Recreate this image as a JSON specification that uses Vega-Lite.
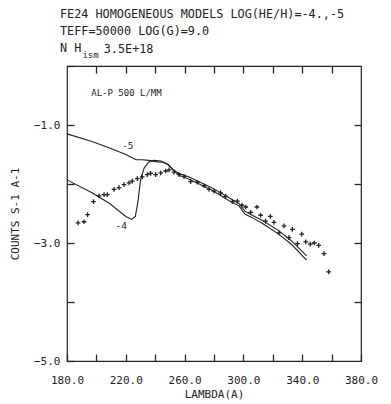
{
  "$schema": "https://vega.github.io/schema/vega-lite/v6.json",
  "width": 294,
  "height": 295,
  "autosize": "none",
  "padding": {"left": 67, "top": 66, "right": 30, "bottom": 43},
  "background": "white",
  "config": {
    "font": "DejaVu Sans Mono",
    "view": {"stroke": "#222", "strokeWidth": 1.2},
    "axis": {"labelFont": "DejaVu Sans Mono", "titleFont": "DejaVu Sans Mono", "labelFontSize": 11, "titleFontSize": 11, "titleFontWeight": "normal", "labelColor": "#222", "titleColor": "#222", "domain": false, "grid": false, "tickColor": "#222", "tickWidth": 1.3}
  },
  "title": {
    "text": ["FE24 HOMOGENEOUS MODELS LOG(HE/H)=-4.,-5", "TEFF=50000 LOG(G)=9.0", "N H"],
    "anchor": "start",
    "frame": "group",
    "dx": -7,
    "offset": -10,
    "font": "DejaVu Sans Mono",
    "fontSize": 11.8,
    "fontWeight": "normal",
    "lineHeight": 17,
    "color": "#222"
  },
  "datasets": {
    "models": [
      {"lambda": 180, "logc": -1.15, "model": "-5"},
      {"lambda": 197, "logc": -1.28, "model": "-5"},
      {"lambda": 209, "logc": -1.39, "model": "-5"},
      {"lambda": 220, "logc": -1.50, "model": "-5"},
      {"lambda": 227, "logc": -1.59, "model": "-5"},
      {"lambda": 231, "logc": -1.59, "model": "-5"},
      {"lambda": 236, "logc": -1.60, "model": "-5"},
      {"lambda": 240, "logc": -1.62, "model": "-5"},
      {"lambda": 245, "logc": -1.63, "model": "-5"},
      {"lambda": 248, "logc": -1.66, "model": "-5"},
      {"lambda": 252, "logc": -1.75, "model": "-5"},
      {"lambda": 256, "logc": -1.82, "model": "-5"},
      {"lambda": 263, "logc": -1.88, "model": "-5"},
      {"lambda": 270, "logc": -1.96, "model": "-5"},
      {"lambda": 279, "logc": -2.07, "model": "-5"},
      {"lambda": 290, "logc": -2.23, "model": "-5"},
      {"lambda": 297, "logc": -2.33, "model": "-5"},
      {"lambda": 301, "logc": -2.46, "model": "-5"},
      {"lambda": 306, "logc": -2.53, "model": "-5"},
      {"lambda": 313, "logc": -2.62, "model": "-5"},
      {"lambda": 324, "logc": -2.79, "model": "-5"},
      {"lambda": 333, "logc": -2.97, "model": "-5"},
      {"lambda": 343, "logc": -3.22, "model": "-5"},
      {"lambda": 180, "logc": -1.93, "model": "-4"},
      {"lambda": 197, "logc": -2.15, "model": "-4"},
      {"lambda": 209, "logc": -2.33, "model": "-4"},
      {"lambda": 220, "logc": -2.55, "model": "-4"},
      {"lambda": 224, "logc": -2.60, "model": "-4"},
      {"lambda": 226.5, "logc": -2.55, "model": "-4"},
      {"lambda": 228.5, "logc": -2.26, "model": "-4"},
      {"lambda": 230, "logc": -1.93, "model": "-4"},
      {"lambda": 232.5, "logc": -1.73, "model": "-4"},
      {"lambda": 235.5, "logc": -1.63, "model": "-4"},
      {"lambda": 239, "logc": -1.60, "model": "-4"},
      {"lambda": 244, "logc": -1.61, "model": "-4"},
      {"lambda": 249, "logc": -1.67, "model": "-4"},
      {"lambda": 253, "logc": -1.79, "model": "-4"},
      {"lambda": 257, "logc": -1.86, "model": "-4"},
      {"lambda": 263, "logc": -1.92, "model": "-4"},
      {"lambda": 270, "logc": -2.00, "model": "-4"},
      {"lambda": 279, "logc": -2.11, "model": "-4"},
      {"lambda": 290, "logc": -2.28, "model": "-4"},
      {"lambda": 297, "logc": -2.37, "model": "-4"},
      {"lambda": 301, "logc": -2.51, "model": "-4"},
      {"lambda": 306, "logc": -2.57, "model": "-4"},
      {"lambda": 313, "logc": -2.67, "model": "-4"},
      {"lambda": 324, "logc": -2.85, "model": "-4"},
      {"lambda": 333, "logc": -3.03, "model": "-4"},
      {"lambda": 343, "logc": -3.29, "model": "-4"}
    ],
    "obs": [
      {"lambda": 187.5, "logc": -2.66}, {"lambda": 191.6, "logc": -2.64}, {"lambda": 194, "logc": -2.52},
      {"lambda": 198, "logc": -2.30}, {"lambda": 201.8, "logc": -2.20}, {"lambda": 205.2, "logc": -2.18},
      {"lambda": 207.4, "logc": -2.18}, {"lambda": 212, "logc": -2.09}, {"lambda": 215.4, "logc": -2.06},
      {"lambda": 218.8, "logc": -2.01}, {"lambda": 222.2, "logc": -1.98}, {"lambda": 224.4, "logc": -1.95},
      {"lambda": 227.8, "logc": -1.91}, {"lambda": 231.2, "logc": -1.88}, {"lambda": 234.6, "logc": -1.84},
      {"lambda": 236.9, "logc": -1.82}, {"lambda": 240.3, "logc": -1.84}, {"lambda": 243.7, "logc": -1.81},
      {"lambda": 247.1, "logc": -1.78}, {"lambda": 249.4, "logc": -1.76}, {"lambda": 252.8, "logc": -1.80},
      {"lambda": 256.2, "logc": -1.84}, {"lambda": 259.6, "logc": -1.87}, {"lambda": 264.1, "logc": -1.96},
      {"lambda": 268.6, "logc": -1.97}, {"lambda": 273.2, "logc": -2.03}, {"lambda": 276.6, "logc": -2.09},
      {"lambda": 280, "logc": -2.12}, {"lambda": 284.5, "logc": -2.15}, {"lambda": 287.9, "logc": -2.21},
      {"lambda": 292.5, "logc": -2.30}, {"lambda": 295.9, "logc": -2.29}, {"lambda": 299, "logc": -2.36},
      {"lambda": 301.6, "logc": -2.39}, {"lambda": 305, "logc": -2.48}, {"lambda": 309.2, "logc": -2.39},
      {"lambda": 311.7, "logc": -2.53}, {"lambda": 315.1, "logc": -2.63}, {"lambda": 318.3, "logc": -2.55},
      {"lambda": 320.8, "logc": -2.65}, {"lambda": 324.2, "logc": -2.83}, {"lambda": 327.6, "logc": -2.71},
      {"lambda": 331, "logc": -2.91}, {"lambda": 333.3, "logc": -2.77}, {"lambda": 336.8, "logc": -3.01},
      {"lambda": 339.7, "logc": -2.85}, {"lambda": 342.4, "logc": -2.98}, {"lambda": 345.5, "logc": -3.02},
      {"lambda": 348.2, "logc": -3.00}, {"lambda": 351.2, "logc": -3.04}, {"lambda": 354.8, "logc": -3.18},
      {"lambda": 358, "logc": -3.49}
    ],
    "labels": [
      {"lambda": 217.5, "logc": -1.35, "text": "-5", "size": 9.5},
      {"lambda": 213, "logc": -2.72, "text": "-4", "size": 9.5},
      {"lambda": 196.5, "logc": -0.45, "text": "AL-P 500 L/MM", "size": 9},
      {"lambda": 190.5, "logc": 0.18, "text": "ism", "size": 9},
      {"lambda": 205, "logc": 0.28, "text": "3.5E+18", "size": 11.8}
    ]
  },
  "layer": [
    {
      "data": {"name": "models"},
      "mark": {"type": "line", "color": "#222", "strokeWidth": 1.1},
      "encoding": {
        "x": {"field": "lambda", "type": "quantitative", "scale": {"domain": [180, 380], "nice": false},
          "axis": {"orient": "bottom", "values": [180, 200, 220, 240, 260, 280, 300, 320, 340, 360, 380], "labelExpr": "(datum.value - 180) % 40 == 0 ? format(datum.value, '.1f') : ''", "tickSize": -7, "labelPadding": 20, "title": "LAMBDA(A)", "titlePadding": 3, "labelFlush": false}},
        "y": {"field": "logc", "type": "quantitative", "scale": {"domain": [-5, 0], "nice": false},
          "axis": {"orient": "left", "values": [-5, -4, -3, -2, -1, 0], "labelExpr": "datum.value % 2 != 0 ? format(datum.value, '.1f') : ''", "tickSize": -7, "labelPadding": 14, "title": "COUNTS S-1 A-1", "titlePadding": 13, "labelFlush": false}},
        "detail": {"field": "model", "type": "nominal"}
      }
    },
    {
      "data": {"name": "obs"},
      "mark": {"type": "point", "shape": "M -1 0 L 1 0 M 0 -1 L 0 1", "filled": false, "color": "#222", "strokeWidth": 1.3, "size": 22, "opacity": 1},
      "encoding": {
        "x": {"field": "lambda", "type": "quantitative", "axis": {"orient": "top", "values": [200, 220, 240, 260, 280, 300, 320, 340, 360], "labels": false, "tickSize": -7, "title": null}},
        "y": {"field": "logc", "type": "quantitative", "axis": {"orient": "right", "values": [-4, -3, -2, -1], "labels": false, "tickSize": -7, "title": null}}
      }
    },
    {
      "data": {"name": "labels"},
      "mark": {"type": "text", "align": "left", "color": "#222", "font": "DejaVu Sans Mono"},
      "encoding": {
        "x": {"field": "lambda", "type": "quantitative", "axis": null},
        "y": {"field": "logc", "type": "quantitative", "axis": null},
        "text": {"field": "text"},
        "size": {"field": "size", "type": "quantitative", "scale": null}
      }
    }
  ],
  "resolve": {"axis": {"x": "independent", "y": "independent"}}
}
